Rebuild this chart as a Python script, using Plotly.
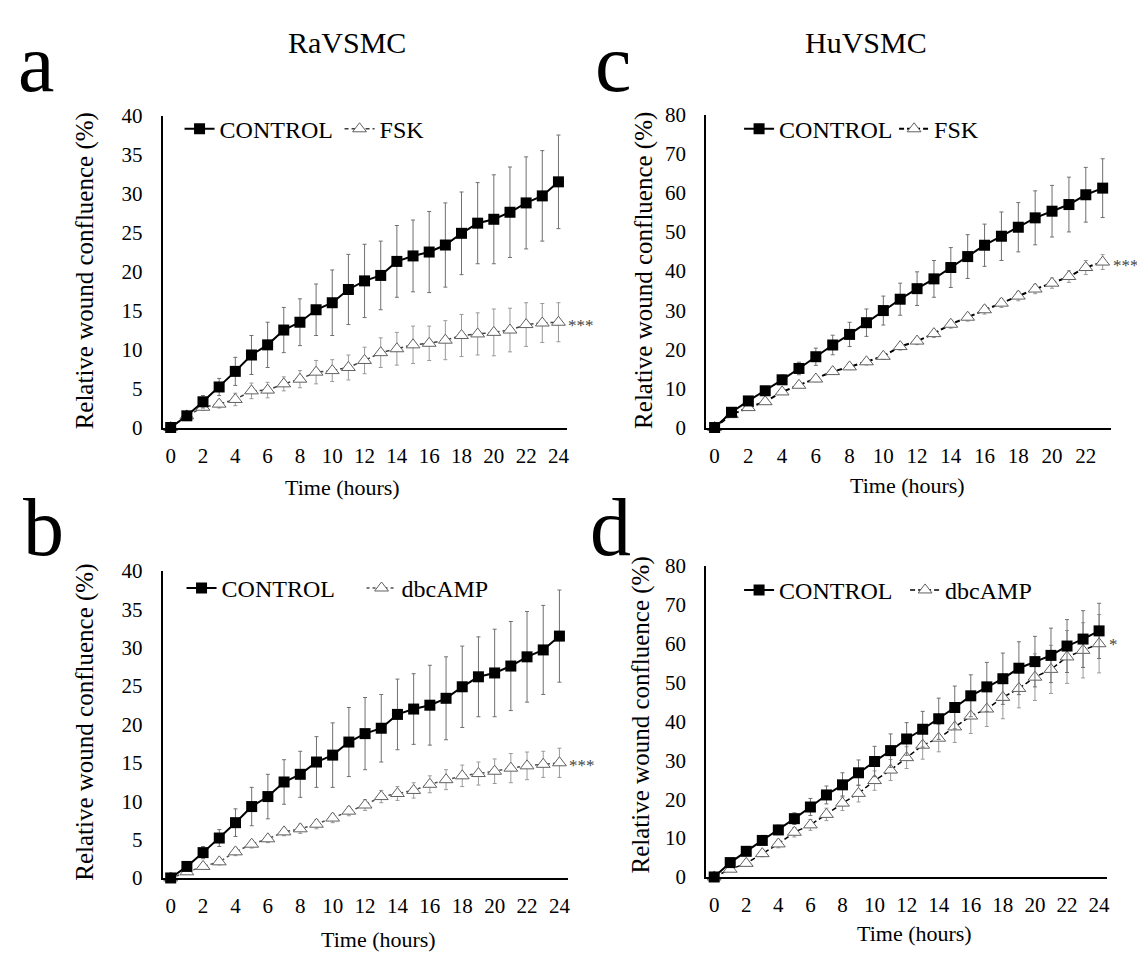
import plotly.graph_objects as go

W, H = 1145, 958

# ---------------- data ----------------
hours_24 = list(range(25))
hours_23 = list(range(24))
x_ticks_24 = list(range(0, 25, 2))
x_ticks_23 = list(range(0, 23, 2))
y_ticks_ra = [0, 5, 10, 15, 20, 25, 30, 35, 40]
y_ticks_hu = [0, 10, 20, 30, 40, 50, 60, 70, 80]

ra_control = [0, 1.5, 3.3, 5.2, 7.2, 9.3, 10.6, 12.5, 13.5, 15.1, 16.0, 17.7, 18.8, 19.5,
              21.3, 22.0, 22.5, 23.4, 24.9, 26.2, 26.7, 27.6, 28.8, 29.7, 31.5]
ra_control_err = [0, 0.3, 0.8, 1.1, 1.8, 2.5, 2.9, 2.9, 3.0, 3.3, 4.2, 4.5, 4.7, 4.4,
                  4.6, 4.6, 5.2, 5.4, 5.3, 5.2, 5.7, 5.8, 5.9, 5.8, 6.0]
ra_fsk = [0, 1.5, 2.6, 3.0, 3.6, 4.7, 4.8, 5.6, 6.2, 7.1, 7.3, 7.7, 8.6, 9.6,
          10.1, 10.6, 10.8, 11.2, 11.8, 12.0, 12.2, 12.5, 13.2, 13.4, 13.5]
ra_fsk_err = [0, 0.2, 0.4, 0.5, 0.8, 1.0, 1.0, 0.9, 1.1, 1.5, 1.4, 1.6, 1.7, 1.9,
              2.1, 2.4, 2.2, 2.5, 2.7, 2.7, 3.0, 2.8, 2.8, 2.5, 2.5]
ra_dbc = [0, 0.8, 1.5, 2.1, 3.4, 4.4, 5.1, 6.0, 6.4, 7.0, 7.8, 8.7, 9.5, 10.6,
          11.0, 11.4, 12.2, 12.8, 13.3, 13.6, 13.9, 14.3, 14.6, 14.8, 15.0]
ra_dbc_err = [0, 0.2, 0.3, 0.4, 0.5, 0.5, 0.5, 0.5, 0.6, 0.6, 0.6, 0.6, 0.7, 0.8,
              0.9, 1.0, 1.1, 1.3, 1.4, 1.5, 1.6, 1.9, 1.8, 1.7, 1.9]

hu_control_c = [0, 3.9, 6.8, 9.4, 12.2, 15.1, 18.1, 21.1, 23.8, 26.8, 29.9, 32.8, 35.5,
                38.0, 40.9, 43.7, 46.6, 48.9, 51.2, 53.6, 55.3, 57.0, 59.5, 61.2]
hu_control_c_err = [0, 0.5, 0.8, 1.0, 1.2, 1.6, 2.2, 2.5, 3.1, 3.5, 3.7, 4.1, 4.3,
                    4.7, 5.1, 5.6, 5.4, 6.2, 6.3, 6.9, 6.6, 7.0, 7.0, 7.5]
hu_fsk = [0, 3.3, 5.1, 6.6, 9.1, 10.8, 12.4, 14.3, 15.5, 16.8, 18.2, 20.7, 22.1,
          24.0, 26.4, 28.2, 30.1, 31.8, 33.6, 35.4, 36.9, 38.6, 40.9, 42.3]
hu_fsk_err = [0, 0.3, 0.4, 0.5, 0.6, 0.6, 0.7, 0.7, 0.7, 0.8, 0.8, 0.9, 0.9,
              1.0, 1.0, 1.0, 1.1, 1.1, 1.2, 1.2, 1.3, 1.5, 1.8, 1.9]

hu_control_d = [0, 3.7, 6.6, 9.4, 12.1, 15.0, 18.0, 21.1, 23.7, 26.8, 29.7, 32.5, 35.5,
                38.0, 40.7, 43.6, 46.6, 48.9, 51.0, 53.7, 55.4, 57.0, 59.4, 61.2, 63.3]
hu_control_d_err = [0, 0.5, 0.8, 1.0, 1.2, 1.5, 2.2, 2.3, 3.1, 3.3, 3.9, 4.3, 4.2,
                    4.6, 5.3, 5.5, 5.4, 6.3, 6.6, 6.8, 6.5, 7.0, 6.8, 7.3, 7.1]
hu_dbc = [0, 2.0, 3.5, 6.0, 8.5, 11.5, 13.4, 16.1, 19.0, 21.5, 24.8, 27.5, 30.7,
          33.9, 35.7, 38.6, 41.4, 43.2, 46.2, 48.5, 51.4, 53.4, 56.6, 58.3, 60.0]
hu_dbc_err = [0, 0.4, 0.6, 0.8, 1.0, 1.2, 1.4, 1.6, 1.9, 2.2, 2.5, 2.7, 2.8,
              3.6, 3.5, 4.0, 4.5, 4.5, 5.5, 5.0, 6.0, 6.2, 6.8, 7.1, 7.5]

# ---------------- style ----------------
FONT = "Liberation Serif, Times New Roman, serif"

def px_x(p):
    return p / W

def px_y(p):
    return 1 - p / H

fig = go.Figure()

def control_trace(x, y, err, xa, ya, leg):
    return go.Scatter(
        x=x, y=y, xaxis=xa, yaxis=ya, name="CONTROL", legend=leg,
        mode="lines+markers", cliponaxis=False,
        line=dict(color="black", width=2),
        marker=dict(symbol="square", size=11, color="black"),
        error_y=dict(type="data", array=err, visible=True, color="#707070",
                     thickness=1, width=2),
    )

def treat_trace(x, y, err, xa, ya, leg, name, dash, lcolor, lwidth):
    return go.Scatter(
        x=x, y=y, xaxis=xa, yaxis=ya, name=name, legend=leg,
        mode="lines+markers", cliponaxis=False,
        line=dict(color=lcolor, width=lwidth, dash=dash),
        marker=dict(symbol="triangle-up", size=12, color="white",
                    line=dict(color="#606060", width=1)),
        error_y=dict(type="data", array=err, visible=True, color="#9a9a9a",
                     thickness=1, width=2),
    )

# panel a
fig.add_trace(treat_trace(hours_24, ra_fsk, ra_fsk_err, "x", "y", "legend", "FSK",
                          "4px,3px", "#404040", 1.5))
fig.add_trace(control_trace(hours_24, ra_control, ra_control_err, "x", "y", "legend"))
# panel b
fig.add_trace(treat_trace(hours_24, ra_dbc, ra_dbc_err, "x2", "y2", "legend2", "dbcAMP",
                          "dot", "#505050", 1.5))
fig.add_trace(control_trace(hours_24, ra_control, ra_control_err, "x2", "y2", "legend2"))
# panel c
fig.add_trace(treat_trace(hours_23, hu_fsk, hu_fsk_err, "x3", "y3", "legend3", "FSK",
                          "5px,3px", "black", 2))
fig.add_trace(control_trace(hours_23, hu_control_c, hu_control_c_err, "x3", "y3", "legend3"))
# panel d
fig.add_trace(treat_trace(hours_24, hu_dbc, hu_dbc_err, "x4", "y4", "legend4", "dbcAMP",
                          "5px,3px", "black", 1.5))
fig.add_trace(control_trace(hours_24, hu_control_d, hu_control_d_err, "x4", "y4", "legend4"))

# legend order: CONTROL first
for tr in fig.data:
    tr.legendrank = 1 if tr.name == "CONTROL" else 2

def xaxis(left, right, rng, ticks, anchor):
    return dict(domain=[px_x(left), px_x(right)], range=rng, tickvals=ticks,
                showline=True, linecolor="black", linewidth=2, showgrid=False,
                zeroline=False, ticks="", ticklabelstandoff=8, anchor=anchor,
                tickfont=dict(family=FONT, size=21, color="black"), fixedrange=True)

def yaxis(top, bottom, rng, ticks, anchor):
    return dict(domain=[px_y(bottom), px_y(top)], range=rng, tickvals=ticks,
                showline=True, linecolor="black", linewidth=2, showgrid=False,
                zeroline=False, ticks="", ticklabelstandoff=14, anchor=anchor,
                tickfont=dict(family=FONT, size=21, color="black"), fixedrange=True)

fig.update_layout(
    width=W, height=H, margin=dict(l=0, r=0, t=0, b=0),
    paper_bgcolor="white", plot_bgcolor="white",
    font=dict(family=FONT, color="black", size=21),
    xaxis=xaxis(155, 560, [-0.5, 24.5], x_ticks_24, "y"),
    yaxis=yaxis(98, 418, [0, 40], y_ticks_ra, "x"),
    xaxis2=xaxis(155, 561, [-0.5, 24.5], x_ticks_24, "y2"),
    yaxis2=yaxis(565, 880, [0, 40], y_ticks_ra, "x2"),
    xaxis3=xaxis(700, 1106, [-0.5, 23.5], x_ticks_23, "y3"),
    yaxis3=yaxis(97, 418, [0, 80], y_ticks_hu, "x3"),
    xaxis4=xaxis(700, 1102, [-0.5, 24.5], x_ticks_24, "y4"),
    yaxis4=yaxis(560, 879, [0, 80], y_ticks_hu, "x4"),
)

def legend(xp, yp, ew):
    return dict(x=px_x(xp), y=px_y(yp), xanchor="left", yanchor="middle",
                orientation="h", bgcolor="rgba(0,0,0,0)", itemwidth=30,
                font=dict(family=FONT, size=24, color="black"),
                traceorder="normal", entrywidth=ew, entrywidthmode="pixels")

fig.update_layout(
    legend=legend(172, 112, 115),
    legend2=legend(174, 583, 135),
    legend3=legend(733, 112, 110),
    legend4=legend(733, 585, 121),
)

annotations = []

def text(x, y, s, size, angle=0):
    annotations.append(dict(x=px_x(x), y=px_y(y), xref="paper", yref="paper",
                            text=s, showarrow=False, textangle=angle,
                            xanchor="center", yanchor="middle",
                            font=dict(family=FONT, size=size, color="black")))

# panel letters and titles
text(28, 45, "a", 82)
text(36, 521, "b", 82)
text(607, 45, "c", 82)
text(604, 521, "d", 82)
text(340, 23, "RaVSMC", 30)
text(860, 23, "HuVSMC", 30)

# axis titles
for (xc, yc) in [(77, 257), (77, 720), (637, 257), (635, 713)]:
    text(xc, yc, "Relative wound confluence (%)", 25, angle=-90)
for (xc, yc) in [(335, 480), (371, 943), (902, 477), (909, 937)]:
    text(xc, yc, "Time (hours)", 22)

# significance stars at the end of each treatment series
stars = [("x", "y", hours_24[-1], ra_fsk[-1], "***"),
         ("x2", "y2", hours_24[-1], ra_dbc[-1], "***"),
         ("x3", "y3", hours_23[-1], hu_fsk[-1], "***"),
         ("x4", "y4", hours_24[-1], hu_dbc[-1] + 0.5, "*")]
for xa, ya, xv, yv, s in stars:
    annotations.append(dict(x=xv, y=yv, xref=xa, yref=ya, text=s, showarrow=False,
                            xanchor="left", yanchor="middle", xshift=8, yshift=-3,
                            font=dict(family=FONT, size=17, color="#444444")))

fig.update_layout(annotations=annotations)

fig.write_html("out.html")
